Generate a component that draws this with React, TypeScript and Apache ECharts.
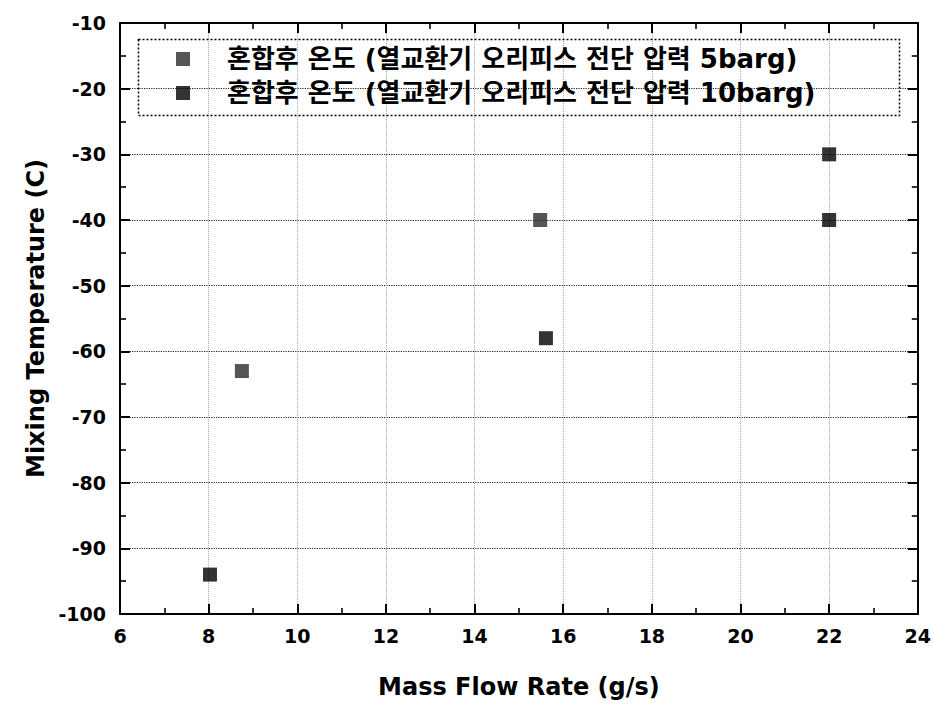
import React, { useEffect, useRef } from "react";
import * as echarts from "echarts";

const seriesNames = [
  "혼합후 온도 (열교환기 오리피스 전단 압력 5barg)",
  "혼합후 온도 (열교환기 오리피스 전단 압력 10barg)",
];
const series5barg: [number, number][] = [
  [8.75, -63],
  [15.48, -40],
];
const series10barg: [number, number][] = [
  [8.03, -94],
  [15.61, -58],
  [22.0, -30],
  [22.0, -40],
];
const xRange = { min: 6, max: 24, interval: 2 };
const yRange = { min: -100, max: -10, interval: 10 };
const xTitle = "Mass Flow Rate (g/s)";
const yTitle = "Mixing Temperature (C)";

const FONT = "DejaVu Sans, sans-serif";

export default function App() {
  const ref = useRef<HTMLDivElement>(null);
  useEffect(() => {
    if (!ref.current) return;
    const chart = echarts.init(ref.current, null, { renderer: "svg" });
    const axisLine = { show: true, onZero: false, lineStyle: { color: "#000", width: 2 } };
    const tick = { show: true, inside: true, length: 10, lineStyle: { color: "#000", width: 2 } };
    const minor = { show: true, splitNumber: 2, length: 6, lineStyle: { color: "#000", width: 1.6 } };
    const labelStyle = { color: "#000", fontFamily: FONT, fontWeight: "bold" as const, fontSize: 19 };
    const nameStyle = { color: "#000", fontFamily: FONT, fontWeight: "bold" as const, fontSize: 24 };
    chart.setOption({
      animation: false,
      backgroundColor: "#fff",
      grid: { left: 120, right: 13, top: 23, bottom: 88, containLabel: false },
      legend: {
        show: true,
        orient: "vertical",
        left: 171,
        top: 40,
        itemGap: 6,
        itemWidth: 14,
        itemHeight: 14,
        textStyle: {
          color: "#000",
          fontSize: 26,
          lineHeight: 28,
          fontWeight: "bold",
          fontFamily: "DejaVu Sans, Noto Sans CJK KR, sans-serif",
          padding: [0, 0, 0, 32],
        },
        data: seriesNames.map((n) => ({ name: n, icon: "rect" })),
      },
      graphic: [
        {
          type: "rect",
          left: 136,
          top: 37,
          shape: { width: 761, height: 76 },
          style: { fill: "none", stroke: "#000", lineWidth: 1.5, lineDash: [2, 2] },
          z: 10,
        },
      ],
      xAxis: [
        {
          type: "value",
          ...xRange,
          position: "bottom",
          name: xTitle,
          nameLocation: "middle",
          nameGap: 61,
          nameTextStyle: nameStyle,
          axisLine,
          axisTick: tick,
          minorTick: minor,
          axisLabel: { ...labelStyle, margin: 12 },
          splitLine: { show: true, lineStyle: { color: "#aaa", type: "dotted", width: 1 } },
        },
        {
          type: "value",
          ...xRange,
          position: "top",
          axisLine,
          axisTick: tick,
          minorTick: minor,
          axisLabel: { show: false },
          splitLine: { show: false },
        },
      ],
      yAxis: [
        {
          type: "value",
          ...yRange,
          position: "left",
          name: yTitle,
          nameLocation: "middle",
          nameGap: 70,
          nameTextStyle: nameStyle,
          axisLine,
          axisTick: tick,
          minorTick: minor,
          axisLabel: { ...labelStyle, margin: 14 },
          splitLine: { show: true, lineStyle: { color: "#222", type: "dotted", width: 1.2 } },
        },
        {
          type: "value",
          ...yRange,
          position: "right",
          axisLine,
          axisTick: tick,
          minorTick: minor,
          axisLabel: { show: false },
          splitLine: { show: false },
        },
      ],
      series: [
        {
          name: seriesNames[0],
          type: "scatter",
          symbol: "rect",
          symbolSize: 14,
          itemStyle: { color: "#2a2a2a" },
          data: series5barg,
          z: 5,
        },
        {
          name: seriesNames[1],
          type: "scatter",
          symbol: "rect",
          symbolSize: 14,
          itemStyle: { color: "#000" },
          data: series10barg,
          z: 5,
        },
      ],
    });
    return () => chart.dispose();
  }, []);
  return <div ref={ref} style={{ width: 934, height: 704, position: "absolute", left: 0, top: 0 }} />;
}
